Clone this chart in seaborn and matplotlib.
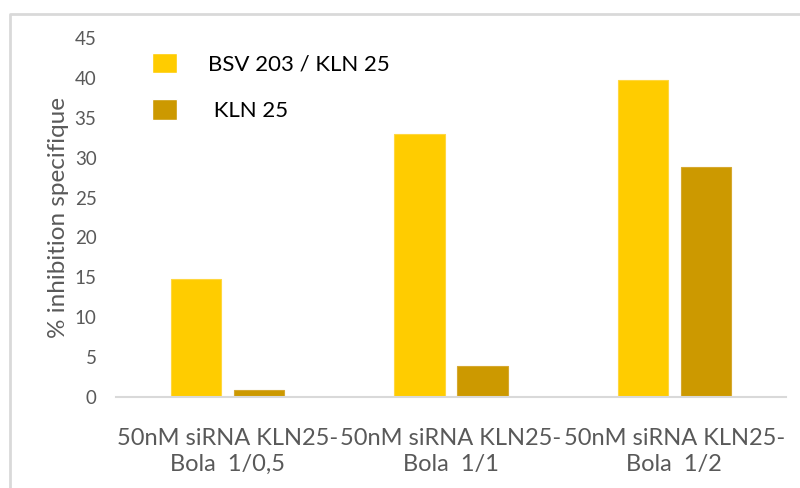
import matplotlib
matplotlib.use("Agg")
import matplotlib.pyplot as plt
from matplotlib.lines import Line2D
import seaborn as sns
import pandas as pd

# Data
categories = ["50nM siRNA KLN25-\nBola  1/0,5",
              "50nM siRNA KLN25-\nBola  1/1",
              "50nM siRNA KLN25-\nBola  1/2"]
series_names = ["BSV 203 / KLN 25", " KLN 25"]
bsv_kln25 = [14.8, 33.0, 39.7]
kln25 = [0.9, 3.9, 28.8]
yticks = [0, 5, 10, 15, 20, 25, 30, 35, 40, 45]

colors = ["#FFCC00", "#CC9900"]
edges = ["#FFD740", "#D6A830"]
text_color = "#595959"

df = pd.DataFrame({
    "category": categories * 2,
    "series": [series_names[0]] * 3 + [series_names[1]] * 3,
    "value": bsv_kln25 + kln25,
})

sns.set_theme(style="white")
plt.rcParams["font.family"] = ["Lato", "DejaVu Sans"]

fig = plt.figure(figsize=(8, 4.88), dpi=100)
W, H = 800, 488
ax = fig.add_axes([116 / W, 1 - 397 / H, 670 / W, 359 / H])

sns.barplot(data=df, x="category", y="value", hue="series",
            palette=colors, width=0.565, gap=0.2, ax=ax,
            saturation=1, legend=True, errorbar=None)

for container, ec in zip(ax.containers, edges):
    for bar in container:
        bar.set_edgecolor(ec)
        bar.set_linewidth(0.8)

ax.set_xlim(-0.5, 2.5)
ax.set_ylim(0, 45)
ax.set_yticks(yticks)
ax.set_yticklabels([str(v) for v in yticks])
ax.tick_params(axis="y", length=0, pad=14, labelsize=13.5, labelcolor=text_color)
ax.tick_params(axis="x", length=0, pad=22, labelsize=17, labelcolor=text_color)
for lbl in ax.get_xticklabels():
    lbl.set_linespacing(1.3)
ax.set_xlabel("")
ax.set_ylabel("% inhibition specifique", fontsize=17.5, color=text_color, labelpad=4)

for s in ["top", "right", "left"]:
    ax.spines[s].set_visible(False)
ax.spines["bottom"].set_color("#D9D9D9")
ax.spines["bottom"].set_linewidth(1.5)

handles, labels = ax.get_legend_handles_labels()
ax.legend(handles, labels, loc="upper left", frameon=False,
          bbox_to_anchor=(132 / W, 1 - 33 / H), bbox_transform=fig.transFigure,
          fontsize=16, handlelength=1.13, handleheight=1.04,
          handletextpad=1.4, labelspacing=1.1, labelcolor="#000000")

# Outer frame
fig.add_artist(Line2D([10 / W, 10 / W, 1.0], [0.0, 1 - 14 / H, 1 - 14 / H],
                      transform=fig.transFigure, color="#D9D9D9", linewidth=2))

fig.savefig("out.png", dpi=100, facecolor="white")
